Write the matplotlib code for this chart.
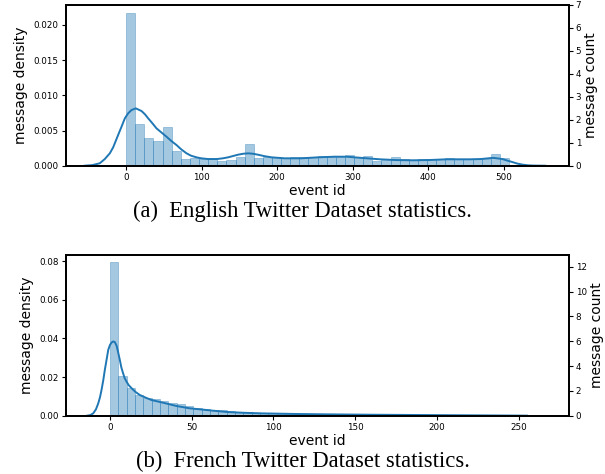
import numpy as np
import matplotlib.pyplot as plt

# English dataset: histogram (density per bin) over event ids 0..507
en_max_id = 507
en_density = [0.02174, 0.00593, 0.00398, 0.00351, 0.00554, 0.00209, 0.00095,
              0.00105, 0.00100, 0.00095, 0.00072, 0.00085, 0.00125, 0.00308,
              0.00115, 0.00118, 0.00120, 0.00115, 0.00120, 0.00120, 0.00123,
              0.00138, 0.00123, 0.00123, 0.00152, 0.00120, 0.00138, 0.00067,
              0.00100, 0.00130, 0.00091, 0.00085, 0.00091, 0.00091, 0.00091,
              0.00109, 0.00091, 0.00091, 0.00100, 0.00100, 0.00166, 0.00109]
# English kde curve
en_kde_x = [-55, -45, -35, -28.2, -21.6, -17.2, -10.6, -6.1, -1.7, 2.7, 7.1,
            12.8, 20.4, 25, 29.2, 35, 40.2, 47, 53.5, 60, 66.7, 73, 80, 86,
            93.2, 100, 108.6, 120.5, 128, 135, 148, 155, 161.6, 168, 174.8,
            183, 192.6, 210, 232, 254, 276, 292, 314, 336, 358, 380, 402,
            424, 455, 470, 486, 498, 505, 512, 518, 525, 532, 539, 555]
en_kde_y = [0, 0.00008, 0.00034, 0.00095, 0.00176, 0.0026, 0.00436, 0.00554,
            0.00673, 0.00745, 0.00791, 0.00815, 0.00777, 0.0073, 0.00673,
            0.0060, 0.00531, 0.0047, 0.00412, 0.0035, 0.00294, 0.00232,
            0.00176, 0.00142, 0.00119, 0.00104, 0.00095, 0.00095, 0.00105,
            0.00119, 0.00156, 0.0017, 0.00176, 0.0017, 0.00156, 0.00136,
            0.00119, 0.00105, 0.00105, 0.00119, 0.00128, 0.00128, 0.00109,
            0.00091, 0.00080, 0.00077, 0.00081, 0.00091, 0.00091, 0.00095,
            0.00112, 0.00095, 0.00072, 0.00050, 0.0003, 0.00015, 0.00006,
            0.00002, 0]

# French dataset: histogram over event ids 0..255
fr_max_id = 255
fr_density = [0.0793, 0.0206, 0.0145, 0.0107, 0.0092, 0.0085, 0.0076, 0.0068,
              0.0060, 0.0052, 0.0042, 0.0036, 0.0031, 0.0027, 0.0023, 0.0020,
              0.0017, 0.0015, 0.0013, 0.0012, 0.0011, 0.0010, 0.0009, 0.0009,
              0.0008, 0.0008, 0.0007, 0.0007, 0.0006, 0.0006, 0.0005, 0.0005,
              0.0005, 0.0004, 0.0004, 0.0004, 0.0003, 0.0003, 0.0003, 0.0002,
              0.0002, 0.0002, 0.0002, 0.0002, 0.0002, 0.0001, 0.0001, 0.0001,
              0.0001, 0.0001]
fr_kde_x = [-14, -12, -10.2, -8.5, -7.1, -6, -5.1, -4, -3.1, -2, -1, 0, 1, 2,
            3, 4.1, 5, 6.1, 7, 8.1, 9, 10.2, 11.5, 13.3, 15.5, 18.3, 22, 25.5,
            32.6, 40.8, 48.9, 55, 63, 72, 82, 93, 113, 133, 160, 200, 230, 255]
fr_kde_y = [0, 0.0003, 0.0012, 0.0033, 0.0064, 0.0097, 0.0133, 0.0185,
            0.0236, 0.029, 0.034, 0.0365, 0.0378, 0.0384, 0.0381, 0.0362,
            0.0330, 0.0288, 0.0250, 0.0219, 0.0195, 0.0176, 0.0158, 0.0142,
            0.0124, 0.0107, 0.0093, 0.0081, 0.0067, 0.0050, 0.0038, 0.0033,
            0.0026, 0.0019, 0.0015, 0.0012, 0.0009, 0.0007, 0.0005, 0.0003,
            0.00015, 0.00003]

C0 = "#1f77b4"

fig = plt.figure(figsize=(6.05, 4.74), dpi=100)


def panel(rect, max_id, dens, kx, ky, xlim, xticks, ylim, yticks, yfmt,
          cnt_top, cnt_ticks, caption, cap_y):
    ax = fig.add_axes(rect)
    n = len(dens)
    w = max_id / n
    ax.bar(np.arange(n) * w, dens, width=w, align="edge",
           color=C0, alpha=0.4, edgecolor=C0, linewidth=0.6)
    ax.plot(kx, ky, color=C0, lw=1.4)
    ax.set_xlim(*xlim)
    ax.set_ylim(*ylim)
    ax.set_xticks(xticks)
    ax.set_yticks(yticks)
    ax.set_yticklabels([yfmt.format(v) for v in yticks])
    ax.set_xlabel("event id", fontsize=10, labelpad=2)
    ax.set_ylabel("message density", fontsize=10, labelpad=4)
    ax.tick_params(labelsize=6.3, length=3, width=0.8, pad=2)

    ax2 = ax.twinx()
    ax2.set_ylim(0, cnt_top)
    ax2.set_yticks(cnt_ticks)
    ax2.set_ylabel("message count", fontsize=10, labelpad=2)
    ax2.tick_params(labelsize=6.3, length=3, width=0.8, pad=2)
    for a in (ax, ax2):
        for s in a.spines.values():
            s.set_linewidth(1.3)
    fig.text(0.5, cap_y, caption, ha="center", va="center",
             family="Liberation Serif", fontsize=16.3)


panel([0.1086, 0.6504, 0.8314, 0.3391], en_max_id, en_density,
      en_kde_x, en_kde_y, (-80, 586), range(0, 501, 100),
      (0, 0.02284), [0, 0.005, 0.010, 0.015, 0.020], "{:.3f}",
      7, range(0, 8), "(a)  English Twitter Dataset statistics.",
      1 - 211 / 474)

panel([0.1086, 0.123, 0.8314, 0.339], fr_max_id, fr_density,
      fr_kde_x, fr_kde_y, (-27, 280.5), range(0, 251, 50),
      (0, 0.0831), [0, 0.02, 0.04, 0.06, 0.08], "{:.2f}",
      12.94, range(0, 13, 2), "(b)  French Twitter Dataset statistics.",
      1 - 461 / 474)

fig.savefig("out.png", dpi=100)
